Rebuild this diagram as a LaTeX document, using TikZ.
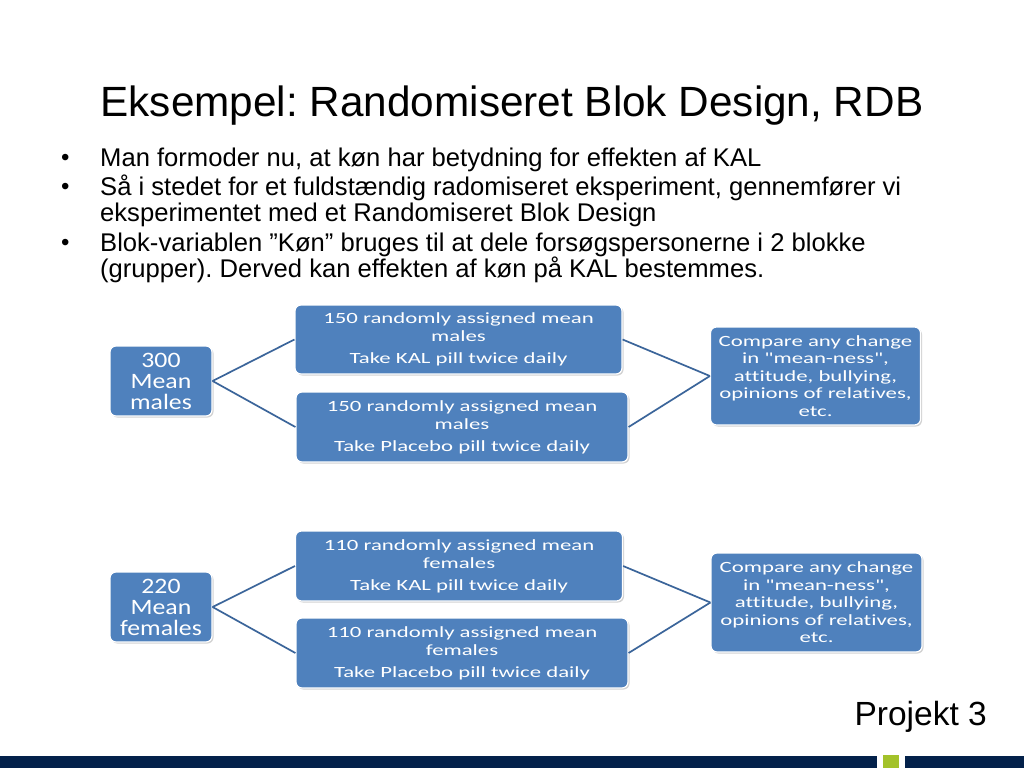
\documentclass[tikz,border=0pt]{standalone}
\usepackage{fontspec}
\setmainfont{Liberation Sans}
\newfontfamily\calibM[FakeStretch=1.46,Ligatures=NoCommon]{Carlito}
\newfontfamily\calibL[FakeStretch=1.17,Ligatures=NoCommon]{Carlito}
\usetikzlibrary{shadows}
\definecolor{boxblue}{HTML}{4F81BD}
\definecolor{linkblue}{HTML}{3B659A}
\definecolor{navy}{HTML}{03214A}
\definecolor{lime}{HTML}{A3C22A}
\frenchspacing
\tikzset{
  bx/.style={rectangle, rounded corners=6pt, fill=boxblue, draw=white, line width=1.2pt,
    drop shadow={shadow xshift=1.5pt, shadow yshift=-1.5pt, opacity=0.35, fill=gray},
    text=white, align=center, inner sep=2pt},
  midbx/.style={bx, minimum width=327pt, minimum height=69pt, font=\calibM\fontsize{15.6}{18}\selectfont},
  leftbx/.style={bx, minimum width=102pt, minimum height=70pt, font=\calibL\fontsize{22}{21}\selectfont},
  cmpbx/.style={bx, minimum width=210pt, minimum height=98pt, font=\calibM\fontsize{15.6}{17.5}\selectfont},
  link/.style={draw=linkblue, line width=1.7pt},
  bodytxt/.style={anchor=base west, inner sep=0pt, font=\fontsize{25.6}{27}\selectfont},
  bul/.style={bodytxt, font=\fontsize{24}{24}\selectfont},
}
\begin{document}
\begin{tikzpicture}[x=1pt,y=-1pt]
\useasboundingbox (0,0) rectangle (1024,768);
\fill[white] (0,0) rectangle (1024,768);
% title
\node[anchor=base, inner sep=0pt, font=\fontsize{42.3}{44}\selectfont] (title) at (512,116) {Eksempel: Randomiseret Blok Design, RDB};
% bullets
\node[bul] (b1) at (61,165) {\textbullet};
\node[bodytxt] (t1) at (100,166) {Man formoder nu, at køn har betydning for effekten af KAL};
\node[bul] (b2) at (61,194) {\textbullet};
\node[bodytxt] (t2a) at (100,195) {Så i stedet for et fuldstændig radomiseret eksperiment, gennemfører vi};
\node[bodytxt] (t2b) at (100,221) {eksperimentet med et Randomiseret Blok Design};
\node[bul] (b3) at (61,250) {\textbullet};
\node[bodytxt] (t3a) at (100,251) {Blok-variablen ”Køn” bruges til at dele forsøgspersonerne i 2 blokke};
\node[bodytxt] (t3b) at (100,277) {(grupper). Derved kan effekten af køn på KAL bestemmes.};
% males block
\node[leftbx] (m) at (161,381) {300\\Mean\\males};
\node[midbx] (mk) at (458.5,339.5) {150 randomly assigned mean\\males\\[4pt]Take KAL pill twice daily};
\node[midbx, minimum width=332pt, minimum height=70pt] (mp) at (462,427) {150 randomly assigned mean\\males\\[4pt]Take Placebo pill twice daily};
\node[cmpbx] (mc) at (815.5,376) {Compare any change\\in "mean-ness",\\attitude, bullying,\\opinions of relatives,\\etc.};
\draw[link] (m.east) -- (mk.west);
\draw[link] (m.east) -- (mp.west);
\draw[link] (mk.east) -- (mc.west);
\draw[link] (mp.east) -- (mc.west);
% females block
\node[leftbx] (f) at (161,607) {220\\Mean\\females};
\node[midbx, minimum height=70pt] (fk) at (459,566) {110 randomly assigned mean\\females\\[4pt]Take KAL pill twice daily};
\node[midbx, minimum width=332pt, minimum height=70pt] (fp) at (462,653) {110 randomly assigned mean\\females\\[4pt]Take Placebo pill twice daily};
\node[cmpbx, minimum width=211pt, minimum height=99pt] (fc) at (816.5,602.5) {Compare any change\\in "mean-ness",\\attitude, bullying,\\opinions of relatives,\\etc.};
\draw[link] (f.east) -- (fk.west);
\draw[link] (f.east) -- (fp.west);
\draw[link] (fk.east) -- (fc.west);
\draw[link] (fp.east) -- (fc.west);
% footer
\node[anchor=base east, inner sep=0pt, font=\fontsize{33.5}{35}\selectfont] (proj) at (987,725) {Projekt 3};
\fill[navy] (0,756) rectangle (1024,768);
\fill[white] (877,755) rectangle (905,768);
\fill[lime] (883,755) rectangle (899,768);
\end{tikzpicture}
\end{document}
